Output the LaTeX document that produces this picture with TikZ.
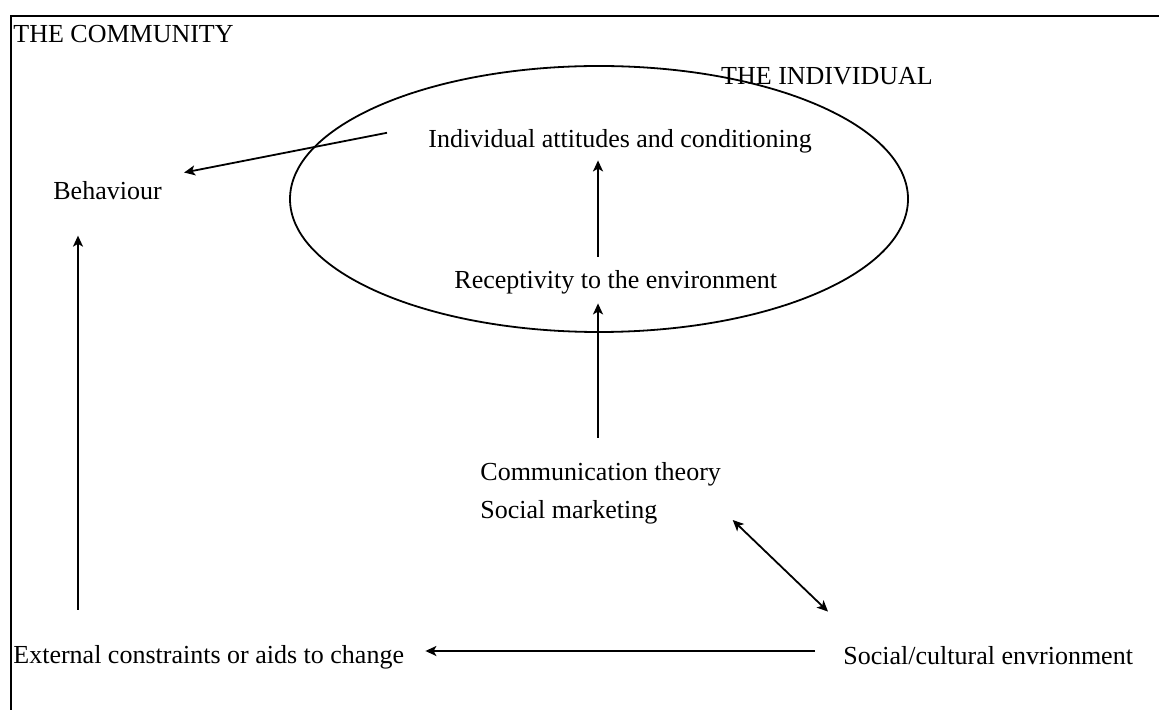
\documentclass[tikz,border=0pt]{standalone}
\usepackage{fontspec}
\setmainfont{Liberation Serif}
\usepackage{tikz}
\usetikzlibrary{arrows.meta}
\tikzset{
  txt/.style={
    inner sep=0pt,
    font=\fontsize{13}{19}\selectfont,
    text=black
  },
  flow/.style={-{Stealth[length=5.5pt,width=5pt,inset=1.4pt]}, line width=0.9pt},
  twoway/.style={{Stealth[length=5.5pt,width=5pt,inset=1.4pt]}-{Stealth[length=5.5pt,width=5pt,inset=1.4pt]}, line width=0.9pt},
  rim/.style={line width=1pt}
}

\begin{document}
\begin{tikzpicture}[x=0.5pt, y=-0.5pt]
    \useasboundingbox (0,0) rectangle (1159,710);

    % community frame and the individual
    \draw[rim] (1159,16) -- (11,16) -- (11,710);
    \draw[line width=0.9pt] (599,199) ellipse [x radius=154.5pt, y radius=66.5pt];

    \node[txt, anchor=base west] (commtitle) at (13,43) {THE COMMUNITY};
    \node[txt, anchor=base] (indivtitle) at (827,85) {THE INDIVIDUAL};

    \node[txt, anchor=base west] (attit) at (428,148) {Individual attitudes and conditioning};
    \node[txt, anchor=base west] (recep) at (454,289) {Receptivity to the environment};
    \node[txt, anchor=base west] (behav) at (53,200) {Behaviour};
    \node[txt, anchor=base west] (commth) at (480,480) {Communication theory};
    \node[txt, anchor=base west] (socmk) at (480,518) {Social marketing};
    \node[txt, anchor=base west] (extern) at (13,663) {External constraints or aids to change};
    \node[txt, anchor=base west] (socenv) at (843,664) {Social/cultural envrionment};

    \coordinate (spine) at (598,0);
    \coordinate (lside) at (78,0);
    \coordinate (lowrow) at (0,651);

    \draw[flow] ([shift={(-41,-9)}]attit.west) -- ([shift={(22,-9)}]behav.north east);
    \draw[flow, shorten <=7pt, shorten >=3.2pt] (recep.north -| spine) -- (attit.south -| spine);
    \draw[flow, shorten <=12pt, shorten >=4.2pt] (commth.north -| spine) -- (recep.south -| spine);
    \draw[twoway] ([shift={(75,-4)}]socmk.south east) -- ([shift={(-15,-34)}]socenv.north west);
    \draw[flow, shorten <=14pt, shorten >=10.5pt] (socenv.west |- lowrow) -- (extern.east |- lowrow);
    \draw[flow, shorten <=17.5pt, shorten >=17.5pt] (extern.north -| lside) -- (behav.south -| lside);
  \end{tikzpicture}
\end{document}
